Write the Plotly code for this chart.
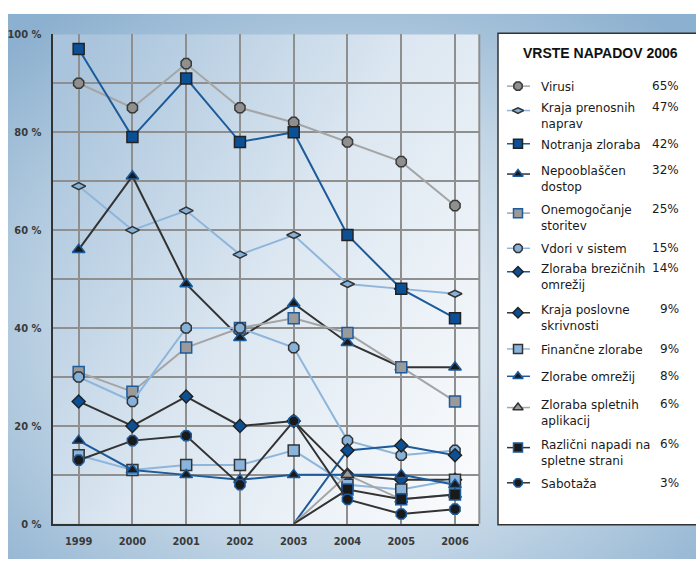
import base64
import plotly.graph_objects as go

W, H = 696, 566

# ---------------- data ----------------
years = [1999, 2000, 2001, 2002, 2003, 2004, 2005, 2006]
series_names = [
    "Virusi",
    "Kraja prenosnih<br>naprav",
    "Notranja zloraba",
    "Nepooblaščen<br>dostop",
    "Onemogočanje<br>storitev",
    "Vdori v sistem",
    "Zloraba brezičnih<br>omrežij",
    "Kraja poslovne<br>skrivnosti",
    "Finančne zlorabe",
    "Zlorabe omrežij",
    "Zloraba spletnih<br>aplikacij",
    "Različni napadi na<br>spletne strani",
    "Sabotaža",
]
pct_2006 = ["65%", "47%", "42%", "32%", "25%", "15%", "14%", "9%", "9%", "8%", "6%", "6%", "3%"]

virusi = [90, 85, 94, 85, 82, 78, 74, 65]
kraja_prenosnih = [69, 60, 64, 55, 59, 49, 48, 47]
notranja_zloraba = [97, 79, 91, 78, 80, 59, 48, 42]
nepooblascen_dostop = [56, 71, 49, 38, 45, 37, 32, 32]
onemogocanje_storitev = [31, 27, 36, 40, 42, 39, 32, 25]
vdori_v_sistem = [30, 25, 40, 40, 36, 17, 14, 15]
zloraba_brezicnih = [None, None, None, None, 0, 15, 16, 14]
kraja_poslovne = [25, 20, 26, 20, 21, 10, 9, 9]
financne_zlorabe = [14, 11, 12, 12, 15, 8, 7, 9]
zlorabe_omrezij = [17, 11, 10, 9, 10, 10, 10, 8]
zloraba_spletnih = [None, None, None, None, 0, 10, 5, 6]
razlicni_napadi = [None, None, None, None, 0, 7, 5, 6]
sabotaza = [13, 17, 18, 8, 21, 5, 2, 3]

y_tickvals = [0, 20, 40, 60, 80, 100]
y_ticktext = ["0 %", "20 %", "40 %", "60 %", "80 %", "100 %"]
y_minor = [10, 30, 50, 70, 90]

values = [virusi, kraja_prenosnih, notranja_zloraba, nepooblascen_dostop,
          onemogocanje_storitev, vdori_v_sistem, zloraba_brezicnih, kraja_poslovne,
          financne_zlorabe, zlorabe_omrezij, zloraba_spletnih, razlicni_napadi, sabotaza]

# ---------------- styles ----------------
DARK = "#333333"
BLUE = "#1d5b9b"
LIGHT = "#8fb6da"
GRAY = "#a5a5a5"
styles = [
    dict(line=GRAY, sym="octagon", fill="#8f8f8f", edge="#3a3a3a", size=11),
    dict(line=LIGHT, sym="diamond-wide", fill="#86b1d9", edge="#333333", size=10),
    dict(line=BLUE, sym="square", fill="#0b4f94", edge="#222222", size=11),
    dict(line=DARK, sym="triangle-up", fill="#1a1a1a", edge=BLUE, size=11),
    dict(line=GRAY, sym="square", fill="#9a9a9a", edge=BLUE, size=11),
    dict(line=LIGHT, sym="octagon", fill="#86b1d9", edge="#333333", size=11),
    dict(line=BLUE, sym="diamond", fill="#0b4f94", edge="#222222", size=10),
    dict(line=DARK, sym="diamond", fill="#0b4f94", edge="#222222", size=10),
    dict(line=LIGHT, sym="square", fill="#8ab4dc", edge="#333333", size=11),
    dict(line=BLUE, sym="triangle-up", fill="#1a1a1a", edge=BLUE, size=11),
    dict(line=GRAY, sym="triangle-up", fill="#9a9a9a", edge="#333333", size=11),
    dict(line=DARK, sym="square", fill="#1a1a1a", edge=BLUE, size=11),
    dict(line=DARK, sym="octagon", fill="#1a1a1a", edge=BLUE, size=11),
]

# legend layout (pixel rows of the first text line)
leg_text_y = [82, 103, 141, 168, 208, 248, 268, 310, 351, 379, 407, 448, 488]

# plot area in pixels
PX0, PX1, PY0, PY1 = 52.7, 479.3, 29, 530


def svg_uri(svg):
    return "data:image/svg+xml;base64," + base64.b64encode(svg.encode()).decode()


panel_svg = (
    "<svg xmlns='http://www.w3.org/2000/svg' width='688' height='558' viewBox='0 0 688 558' preserveAspectRatio='none'>"
    "<defs><radialGradient id='g' cx='0.5' cy='0.58' r='0.72'>"
    "<stop offset='0' stop-color='#eef3f8'/><stop offset='0.55' stop-color='#c3d6e6'/>"
    "<stop offset='1' stop-color='#8cb0cf'/></radialGradient></defs>"
    "<rect width='688' height='558' fill='url(#g)'/></svg>"
)
plot_svg = (
    "<svg xmlns='http://www.w3.org/2000/svg' width='427' height='501' viewBox='0 0 427 501' preserveAspectRatio='none'>"
    "<defs><linearGradient id='h' x1='0' y1='0.15' x2='1' y2='0.85'>"
    "<stop offset='0' stop-color='#a9c4dc'/><stop offset='0.5' stop-color='#dce7f1'/>"
    "<stop offset='1' stop-color='#f8fafc'/></linearGradient></defs>"
    "<rect width='427' height='501' fill='url(#h)'/></svg>"
)

fig = go.Figure()

for name, vals, st in zip(series_names, values, styles):
    # the start point (value 0) of series that begin in 2004 carries no marker
    op = [0 if v == 0 else 1 for v in vals]
    fig.add_trace(go.Scatter(
        x=years, y=vals, mode="lines+markers", name=name.replace("<br>", " "),
        line=dict(color=st["line"], width=2),
        marker=dict(symbol=st["sym"], size=st["size"], color=st["fill"], opacity=op,
                    line=dict(color=st["edge"], width=1.5)),
        showlegend=False, xaxis="x", yaxis="y",
    ))

# manual legend
annotations = []
for i, (name, pct, st) in enumerate(zip(series_names, pct_2006, styles)):
    two = "<br>" in name
    ty = leg_text_y[i]
    sy = ty + (4 if two else 0)
    fig.add_trace(go.Scatter(
        x=[507, 518, 530], y=[sy, sy, sy], mode="lines+markers",
        line=dict(color=st["line"], width=1.5),
        marker=dict(symbol=st["sym"], size=st["size"] - 2, color=st["fill"],
                    opacity=[0, 1, 0], line=dict(color=st["edge"], width=1.5)),
        showlegend=False, hoverinfo="skip", xaxis="x2", yaxis="y2",
    ))
    annotations.append(dict(
        x=539, y=ty - 8, xref="x2", yref="y2", text=name, showarrow=False,
        xanchor="left", yanchor="top", align="left",
        font=dict(family="DejaVu Sans", size=12, color="#1a1a1a"),
    ))
    annotations.append(dict(
        x=681, y=ty, xref="x2", yref="y2", text=pct, showarrow=False,
        xanchor="right", yanchor="middle",
        font=dict(family="DejaVu Sans", size=12, color="#1a1a1a"),
    ))

annotations.append(dict(
    x=600, y=48, xref="x2", yref="y2", text="<b>VRSTE NAPADOV 2006</b>", showarrow=False,
    xanchor="center", yanchor="middle",
    font=dict(family="Liberation Sans", size=14, color="#111111"),
))

tickfont = dict(family="Liberation Sans Narrow, DejaVu Sans Condensed, Liberation Sans",
                size=11, color="#3a3a3a", weight="bold")
GRID = "#8f8f8f"

fig.update_layout(
    width=W, height=H, margin=dict(l=0, r=0, t=0, b=0),
    paper_bgcolor="white", plot_bgcolor="rgba(0,0,0,0)",
    xaxis=dict(domain=[PX0 / W, PX1 / W], range=[1998.517, 2006.452],
               tickvals=years, ticktext=[str(y) for y in years],
               showgrid=True, gridcolor=GRID, gridwidth=1.5, zeroline=False,
               showline=True, linecolor=DARK, linewidth=2, ticks="",
               tickfont=tickfont, ticklabelstandoff=6, anchor="y", fixedrange=True),
    yaxis=dict(domain=[1 - PY1 / H, 1 - PY0 / H], range=[0, 100],
               tickvals=y_tickvals, ticktext=y_ticktext,
               minor=dict(tickvals=y_minor, showgrid=True, gridcolor=GRID, gridwidth=1.5),
               showgrid=True, gridcolor=GRID, gridwidth=1.5, zeroline=False,
               showline=True, linecolor=DARK, linewidth=2, ticks="",
               tickfont=tickfont, ticklabelstandoff=7, anchor="x", fixedrange=True),
    xaxis2=dict(domain=[0, 1], range=[0, W], visible=False, anchor="y2", fixedrange=True),
    yaxis2=dict(domain=[0, 1], range=[H, 0], visible=False, anchor="x2", fixedrange=True),
    annotations=annotations,
    images=[
        dict(source=svg_uri(panel_svg), xref="paper", yref="paper",
             x=8 / W, y=1 - 8 / H, sizex=688 / W, sizey=558 / H,
             xanchor="left", yanchor="top", sizing="stretch", layer="below"),
        dict(source=svg_uri(plot_svg), xref="paper", yref="paper",
             x=PX0 / W, y=1 - PY0 / H, sizex=(PX1 - PX0) / W, sizey=(PY1 - PY0) / H,
             xanchor="left", yanchor="top", sizing="stretch", layer="below"),
    ],
    shapes=[
        dict(type="rect", xref="paper", yref="paper",
             x0=498 / W, x1=1.01, y0=1 - 531 / H, y1=1 - 28 / H,
             fillcolor="white", line=dict(color=DARK, width=1.5), layer="below"),
        dict(type="line", xref="x domain", yref="y domain", x0=1, x1=1, y0=0, y1=1,
             line=dict(color=GRID, width=2)),
    ],
)

fig.write_html("out.html")
